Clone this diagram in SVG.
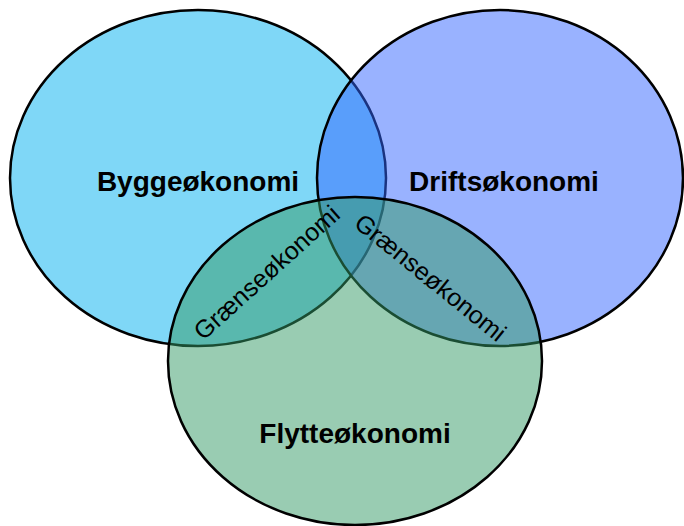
<svg xmlns="http://www.w3.org/2000/svg" width="684" height="526" viewBox="0 0 684 526">
<style>
.c{stroke:#000;stroke-width:2.5}
.lbl{font-family:"Liberation Sans",Arial,sans-serif;font-size:28px;font-weight:bold;fill:#000;text-anchor:middle}
.sub{font-family:"Liberation Sans",Arial,sans-serif;font-size:25px;fill:#000;text-anchor:middle}
</style>
<rect width="684" height="526" fill="#fff"/>
<g id="bygg">
<ellipse class="c" cx="198" cy="178" rx="188" ry="168" fill="#00B0F0" fill-opacity="0.5"/>
</g>
<g id="drift">
<ellipse class="c" cx="500" cy="178" rx="183" ry="168" fill="#3366FF" fill-opacity="0.5"/>
</g>
<g id="flytte">
<ellipse class="c" cx="355" cy="361" rx="187" ry="164" fill="#339966" fill-opacity="0.5"/>
</g>
<g id="labels">
<text class="lbl" x="198" y="191">Byggeøkonomi</text>
<text class="lbl" x="504" y="191">Driftsøkonomi</text>
<text class="lbl" x="355" y="443">Flytteøkonomi</text>
<text class="sub" transform="translate(267,273) rotate(-42)" x="0" y="8">Grænseøkonomi</text>
<text class="sub" transform="translate(430,278) rotate(39)" x="0" y="8">Grænseøkonomi</text>
</g>
<g id="connectors"/>
</svg>
